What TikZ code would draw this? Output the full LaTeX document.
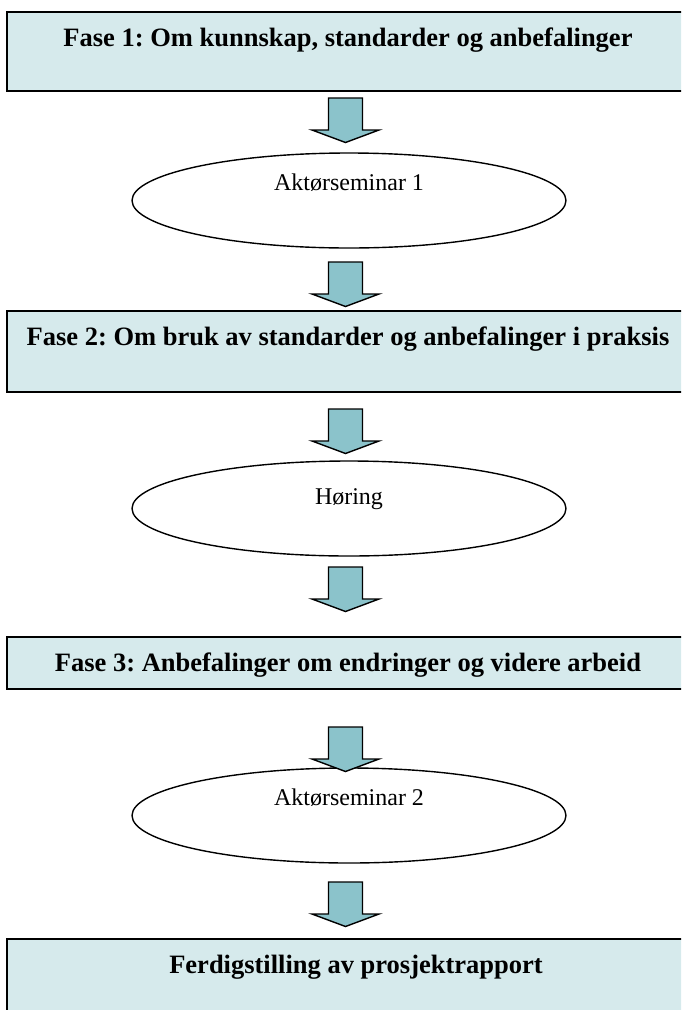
\documentclass[tikz,border=0pt]{standalone}
\usepackage{fontspec}
\setmainfont{Liberation Serif}
\usetikzlibrary{shapes.geometric}
\definecolor{boxfill}{RGB}{214,234,236}
\definecolor{arrowfill}{RGB}{139,195,203}
\frenchspacing
\begin{document}
\begin{tikzpicture}[x=1pt,y=-1pt,
  phase/.style={draw=black, line width=1.8pt, fill=boxfill, inner sep=0pt, outer sep=0pt,
    anchor=north west, font=\fontsize{26.5}{32}\selectfont\bfseries, text height=34pt},
  seminar/.style={draw=black, line width=1.4pt, ellipse, inner sep=0pt,
    minimum width=434pt, minimum height=95pt, font=\fontsize{24}{28}\selectfont,
    text height=10pt, text depth=30pt},
  arrowshape/.style={draw=black, fill=arrowfill, line width=1.4pt, line join=miter},
  blockarrow/.pic={\path[arrowshape] (-17,0) -- (17,0) -- (17,32) -- (33.5,32) -- (0,44.5)
    -- (-33.5,32) -- (-17,32) -- cycle;}]
\useasboundingbox (0,0) rectangle (681,1010);
\clip (0,0) rectangle (681,1010);

\node[phase, minimum width=682pt, text depth=45pt] (b1) at (7,12)
  {Fase 1: Om kunnskap, standarder og anbefalinger};
\node[seminar] (s1) at (349,200.5) {Aktørseminar 1};
\node[phase, minimum width=682pt, text depth=47pt] (b2) at (7,311)
  {Fase 2: Om bruk av standarder og anbefalinger i praksis};
\node[seminar, text depth=19pt] (s2) at (349,508.5) {Høring};
\node[phase, minimum width=682pt, text depth=18pt] (b3) at (7,637)
  {Fase 3: Anbefalinger om endringer og videre arbeid};
\node[seminar] (s3) at (349,815.5) {Aktørseminar 2};
\node[phase, minimum width=698pt, text depth=56pt] (b4) at (7,939)
  {Ferdigstilling av prosjektrapport};

\pic (a1) at (345.5,98) {blockarrow};
\pic (a2) at (345.5,262) {blockarrow};
\pic (a3) at (345.5,409) {blockarrow};
\pic (a4) at (345.5,567) {blockarrow};
\pic (a5) at (345.5,727) {blockarrow};
\pic (a6) at (345.5,882) {blockarrow};
\end{tikzpicture}
\end{document}
